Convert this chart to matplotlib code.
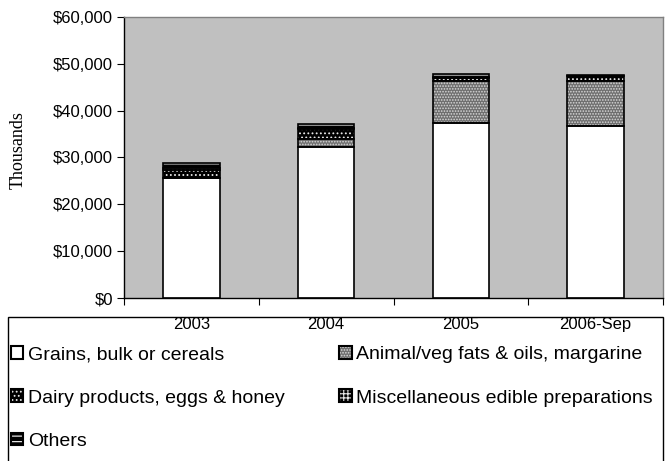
import matplotlib
matplotlib.use("Agg")
import matplotlib.pyplot as plt
from matplotlib.patches import Patch, Rectangle
from matplotlib.ticker import FuncFormatter, FixedLocator
from matplotlib.legend_handler import HandlerTuple
import numpy as np

plt.rcParams['font.family'] = ['Liberation Sans', 'DejaVu Sans']
plt.rcParams['hatch.linewidth'] = 0.8

categories = ["2003", "2004", "2005", "2006-Sep"]
grains = [25600, 32200, 37400, 36800]
animal_veg = [0, 1700, 9000, 9500]
dairy = [1800, 2100, 500, 1000]
misc = [300, 400, 300, 200]
others = [1200, 800, 700, 200]

series_names = ["Grains, bulk or cereals", "Animal/veg fats & oils, margarine",
                "Dairy products, eggs & honey", "Miscellaneous edible preparations",
                "Others"]
series_vals = [grains, animal_veg, dairy, misc, others]
styles = [
    dict(face="white", hatch=None, hc="white"),
    dict(face="#6e6e6e", hatch="......", hc="#d8d8d8"),
    dict(face="black", hatch="....", hc="#e8e8e8"),
    dict(face="black", hatch="++++", hc="#e8e8e8"),
    dict(face="black", hatch="---", hc="white"),
]

fig = plt.figure(figsize=(6.65, 4.61), dpi=100)
ax = fig.add_axes([124/665, 1-298/461, 539/665, 281/461])
ax.set_facecolor("#c0c0c0")

x = np.arange(len(categories))
width = 0.42
bottom = np.zeros(len(categories))
handles = []
for name, vals, st in zip(series_names, series_vals, styles):
    vals = np.array(vals, dtype=float)
    ax.bar(x, vals, width, bottom=bottom, color=st["face"], hatch=st["hatch"],
           edgecolor=st["hc"], linewidth=0, zorder=2)
    ax.bar(x, vals, width, bottom=bottom, fill=False, edgecolor="black",
           linewidth=1.2, zorder=3)
    bottom += vals
    h1 = Patch(facecolor=st["face"], hatch=st["hatch"], edgecolor=st["hc"], linewidth=0)
    h2 = Patch(fill=False, edgecolor="black", linewidth=1.5)
    handles.append((h1, h2))

ax.set_xlim(-0.5, 3.5)
ax.set_ylim(0, 60000)
ax.yaxis.set_major_locator(FixedLocator(np.arange(0, 60001, 10000)))
ax.yaxis.set_major_formatter(FuncFormatter(lambda v, p: f"${v:,.0f}"))
ax.set_xticks(np.arange(-0.5, 3.6, 1.0))
ax.set_xticklabels([])
ax.set_xticks(x, minor=True)
ax.set_xticklabels(categories, minor=True)
ax.tick_params(axis="x", which="minor", length=0, labelsize=12, pad=14)
ax.tick_params(axis="x", which="major", length=5, direction="out")
ax.tick_params(axis="y", length=5, direction="out", labelsize=12, pad=3)
for s in ["left", "bottom"]:
    ax.spines[s].set_color("black")
    ax.spines[s].set_linewidth(1.0)
for s in ["top", "right"]:
    ax.spines[s].set_color("#808080")
    ax.spines[s].set_linewidth(1.0)

fig.text(18/665, 1-150/461, "Thousands", rotation=90, ha="center", va="center",
         fontsize=13, family=["Liberation Serif", "DejaVu Serif"])

# legend frame (extends past the bottom)
fig.patches.append(Rectangle((8/665, -0.05), 655/665, 0.05 + 144/461,
                             transform=fig.transFigure, fill=False,
                             edgecolor="black", linewidth=1.0))

order = [0, 2, 4, 1, 3]
leg = fig.legend([handles[i] for i in order], [series_names[i] for i in order],
                 ncol=2, loc="upper left", mode="expand",
                 bbox_to_anchor=(11/665, 0, 642/665, 1-346/461),
                 frameon=False, fontsize=14, handlelength=0.62, handleheight=0.62,
                 handletextpad=0.25, labelspacing=1.35, borderaxespad=0,
                 borderpad=0,
                 handler_map={tuple: HandlerTuple(ndivide=1)})

fig.savefig("out.png", dpi=100)
